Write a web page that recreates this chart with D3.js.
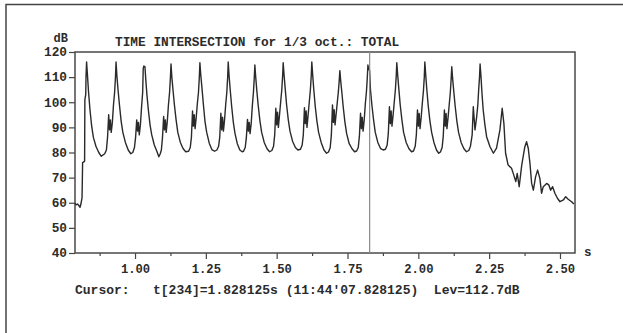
<!DOCTYPE html>
<html>
<head>
<meta charset="utf-8">
<script src="https://cdn.jsdelivr.net/npm/d3@7"></script>
<style>
  body { margin: 0; background: #fff; }
  svg { display: block; }
  text { font-family: "Liberation Mono", "DejaVu Sans Mono", monospace; font-weight: bold; fill: #2b2b2b; }
</style>
</head>
<body>
<div id="chart"></div>
<script>
// time axis (s) and level (dB)
const timeS = [
  0.788, 0.792, 0.797, 0.801, 0.806, 0.809, 0.813, 0.815, 0.822, 0.823, 0.826, 0.827,
  0.829, 0.832, 0.836, 0.841, 0.847, 0.853, 0.862, 0.872, 0.881,
  0.893, 0.899, 0.903, 0.907, 0.910, 0.913, 0.916, 0.920, 0.924, 0.928, 0.931,
  0.933, 0.936, 0.940, 0.945, 0.951, 0.957, 0.966, 0.976, 0.985,
  0.992, 0.998, 1.002, 1.006, 1.009, 1.012, 1.015, 1.019, 1.023, 1.027, 1.029,
  1.031, 1.035, 1.038, 1.042, 1.047, 1.053, 1.059, 1.068, 1.077, 1.084,
  1.089, 1.093, 1.097, 1.101, 1.104, 1.107, 1.110, 1.114, 1.118, 1.122, 1.125,
  1.127, 1.130, 1.134, 1.139, 1.145, 1.151, 1.160, 1.170, 1.179,
  1.189, 1.195, 1.199, 1.203, 1.206, 1.209, 1.212, 1.216, 1.220, 1.224, 1.227,
  1.229, 1.232, 1.236, 1.241, 1.247, 1.253, 1.262, 1.272, 1.281,
  1.289, 1.295, 1.299, 1.303, 1.306, 1.309, 1.312, 1.316, 1.320, 1.324, 1.327,
  1.329, 1.332, 1.336, 1.341, 1.347, 1.353, 1.361, 1.370, 1.378,
  1.383, 1.389, 1.393, 1.397, 1.400, 1.403, 1.406, 1.410, 1.414, 1.418, 1.421,
  1.423, 1.426, 1.430, 1.435, 1.441, 1.447, 1.456, 1.466, 1.475,
  1.483, 1.489, 1.493, 1.497, 1.500, 1.503, 1.506, 1.510, 1.514, 1.518, 1.521,
  1.523, 1.526, 1.530, 1.535, 1.541, 1.547, 1.556, 1.566, 1.575,
  1.584, 1.590, 1.594, 1.598, 1.601, 1.604, 1.607, 1.611, 1.615, 1.619, 1.622,
  1.624, 1.627, 1.631, 1.636, 1.642, 1.648, 1.657, 1.667, 1.676,
  1.683, 1.689, 1.693, 1.697, 1.700, 1.703, 1.706, 1.710, 1.714, 1.718, 1.721,
  1.723, 1.726, 1.730, 1.735, 1.741, 1.747, 1.756, 1.766, 1.775,
  1.782, 1.788, 1.792, 1.796, 1.799, 1.802, 1.805, 1.809, 1.813, 1.817, 1.820,
  1.822, 1.825, 1.828, 1.831, 1.836, 1.842, 1.848, 1.857, 1.867, 1.876,
  1.884, 1.890, 1.894, 1.898, 1.901, 1.904, 1.907, 1.911, 1.915, 1.919, 1.922,
  1.924, 1.927, 1.931, 1.936, 1.942, 1.948, 1.957, 1.967, 1.976,
  1.983, 1.989, 1.993, 1.997, 2.000, 2.003, 2.006, 2.010, 2.014, 2.018, 2.021,
  2.023, 2.026, 2.030, 2.035, 2.041, 2.047, 2.055, 2.064, 2.072,
  2.078, 2.084, 2.088, 2.092, 2.095, 2.098, 2.101, 2.105, 2.109, 2.113, 2.116,
  2.118, 2.121, 2.125, 2.130, 2.136, 2.142, 2.151, 2.161, 2.170,
  2.178, 2.184, 2.190, 2.194, 2.200, 2.206, 2.210, 2.213, 2.216,
  2.218, 2.221, 2.225, 2.229, 2.235, 2.241, 2.253, 2.265, 2.276, 2.288,
  2.296, 2.302, 2.308, 2.317, 2.329, 2.335, 2.344, 2.349, 2.356, 2.365,
  2.376, 2.382, 2.388, 2.394, 2.400, 2.406, 2.414, 2.421, 2.429, 2.435,
  2.441, 2.453, 2.461, 2.467, 2.474, 2.482, 2.491, 2.500, 2.512, 2.520,
  2.529, 2.541, 2.549
];
const levelDb = [
  59.8, 59.2, 59.5, 59.0, 58.2, 59.5, 62.0, 76.0, 76.5, 101.0, 103.0, 110.0,
  116.0, 111.0, 104.0, 97.0, 90.5, 86.0, 82.5, 80.0, 78.5,
  79.5, 81.0, 86.0, 95.0, 89.0, 93.0, 88.0, 92.0, 99.0, 104.0, 110.0,
  116.0, 110.5, 105.0, 99.0, 92.5, 88.0, 84.0, 81.0, 79.5,
  80.0, 82.0, 86.0, 93.0, 88.5, 92.0, 87.0, 91.0, 98.0, 104.0, 113.5,
  114.4, 114.2, 109.0, 103.0, 97.0, 91.0, 87.0, 83.0, 80.5, 78.3,
  79.5, 81.0, 86.0, 94.3, 89.0, 93.0, 88.0, 92.5, 99.0, 104.0, 110.0,
  115.2, 110.0, 105.0, 99.0, 93.0, 88.0, 84.0, 81.5, 80.3,
  80.5, 82.0, 86.0, 96.5, 90.5, 95.0, 89.5, 94.0, 99.5, 104.0, 110.0,
  115.7, 111.0, 106.0, 99.5, 92.3, 88.0, 83.7, 81.0, 80.5,
  81.0, 82.5, 86.0, 95.6, 89.0, 94.0, 88.5, 93.0, 99.0, 104.0, 110.0,
  116.0, 110.5, 105.0, 98.5, 92.0, 87.5, 83.5, 81.0, 80.3,
  80.5, 82.0, 86.0, 93.2, 88.5, 92.0, 87.5, 91.5, 98.5, 104.0, 110.0,
  114.8, 110.0, 104.5, 98.5, 92.5, 88.0, 84.0, 81.5, 80.3,
  80.8, 82.5, 87.0, 97.6, 91.0, 96.0, 90.0, 95.0, 100.0, 105.0, 110.5,
  115.7, 111.0, 105.5, 99.0, 93.0, 88.5, 84.5, 82.0, 81.0,
  81.3, 83.0, 87.0, 97.8, 91.5, 96.5, 90.0, 95.0, 100.0, 105.0, 110.5,
  116.0, 111.0, 105.0, 98.5, 92.5, 88.0, 84.0, 81.0, 79.7,
  80.2, 82.0, 87.0, 98.9, 92.0, 97.0, 91.0, 95.5, 100.0, 104.5, 109.0,
  112.6, 108.5, 104.0, 98.0, 92.0, 87.5, 83.5, 81.5, 80.3,
  80.6, 82.0, 86.5, 95.6, 89.5, 94.0, 88.5, 93.0, 99.5, 104.5, 110.0,
  114.8, 113.0, 112.7, 105.0, 99.0, 93.0, 88.0, 84.0, 81.5, 81.0,
  81.3, 83.0, 87.5, 98.2, 91.5, 96.5, 90.5, 95.0, 100.0, 105.0, 110.5,
  115.7, 111.0, 105.5, 99.0, 93.0, 88.0, 84.0, 81.5, 80.3,
  80.6, 82.5, 87.0, 96.9, 90.5, 95.5, 89.5, 94.0, 99.5, 104.5, 110.0,
  116.0, 111.0, 105.0, 98.5, 92.5, 88.0, 84.0, 81.0, 79.7,
  80.2, 82.0, 86.5, 96.9, 90.5, 95.5, 89.5, 94.0, 99.0, 104.0, 109.5,
  114.1, 109.5, 104.5, 98.5, 92.5, 88.0, 84.0, 81.5, 80.3,
  80.8, 82.5, 87.0, 98.2, 89.0, 94.3, 99.0, 105.0, 110.0,
  115.2, 110.5, 103.0, 96.9, 91.0, 86.3, 82.3, 79.7, 81.7, 89.0,
  97.6, 91.6, 79.7, 75.0, 73.7, 71.7, 68.4, 71.7, 66.4, 75.0,
  82.3, 84.3, 81.7, 75.7, 67.7, 65.0, 70.4, 73.0, 69.7, 63.8,
  66.4, 67.7, 67.0, 65.0, 66.4, 63.8, 61.8, 60.4, 61.1, 62.4,
  61.4, 60.4, 59.5
];

const yTicks = [40, 50, 60, 70, 80, 90, 100, 110, 120];
const xMajorTicks = [1.00, 1.25, 1.50, 1.75, 2.00, 2.25, 2.50];
const xMinorTicks = [0.875, 1.125, 1.375, 1.625, 1.875, 2.125, 2.375];

const titleText = "TIME INTERSECTION for 1/3 oct.: TOTAL";
const cursorTime = 1.828125;
const cursorText = "Cursor:   t[234]=1.828125s (11:44'07.828125)  Lev=112.7dB";

const width = 623, height = 333;
const plotL = 75, plotR = 575, plotT = 52, plotB = 253;

const x = d3.scaleLinear().domain([0.788125, 2.553]).range([plotL, plotR]);
const y = d3.scaleLinear().domain([40, 120]).range([plotB, plotT]);

const svg = d3.select("#chart").append("svg")
    .attr("width", width)
    .attr("height", height);

// outer frame (only top & left edges visible)
svg.append("path")
    .attr("d", "M6,333V4.5H623")
    .attr("fill", "none")
    .attr("stroke", "#444")
    .attr("stroke-width", 1.5);

// y axis
const yAxis = svg.append("g")
    .attr("transform", "translate(" + plotL + ",0)")
    .call(d3.axisLeft(y).tickValues(yTicks).tickSize(6).tickPadding(2).tickFormat(d3.format("d")));

// x axis major + minor
const xAxis = svg.append("g")
    .attr("transform", "translate(0," + plotB + ")")
    .call(d3.axisBottom(x).tickValues(xMajorTicks).tickSize(6).tickPadding(5).tickFormat(d3.format(".2f")));

svg.append("g")
    .attr("transform", "translate(0," + plotB + ")")
    .call(d3.axisBottom(x).tickValues(xMinorTicks).tickSize(3).tickFormat(""));

svg.selectAll(".domain").remove();
svg.selectAll(".tick line").attr("stroke", "#444").attr("stroke-width", 1.2);
svg.selectAll(".tick text").attr("fill", "#2b2b2b");
yAxis.selectAll(".tick text").attr("dy", "0.3em").style("font-size", "12.8px");
xAxis.selectAll(".tick text").attr("dy", "0.75em").style("font-size", "12.2px");
svg.selectAll("g").attr("font-family", null).attr("font-size", null);

// plot frame
svg.append("rect")
    .attr("x", plotL).attr("y", plotT)
    .attr("width", plotR - plotL).attr("height", plotB - plotT)
    .attr("fill", "none")
    .attr("stroke", "#4a4a4a")
    .attr("stroke-width", 1.5);

// trace
const line = d3.line()
    .x((d, i) => x(timeS[i]))
    .y(d => y(d));

svg.append("path")
    .datum(levelDb)
    .attr("d", line)
    .attr("fill", "none")
    .attr("stroke", "#2a2a2a")
    .attr("stroke-width", 1.4)
    .attr("stroke-linejoin", "round");

// cursor
svg.append("line")
    .attr("x1", x(cursorTime)).attr("x2", x(cursorTime))
    .attr("y1", plotT).attr("y2", plotB)
    .attr("stroke", "#8a8a8a")
    .attr("stroke-width", 1.2);

// labels
svg.append("text")
    .attr("x", 115).attr("y", 45.5)
    .style("font-size", "12.8px")
    .style("white-space", "pre")
    .text(titleText);

svg.append("text")
    .attr("x", 68).attr("y", 42)
    .attr("text-anchor", "end")
    .style("font-size", "12px")
    .text("dB");

svg.append("text")
    .attr("x", 584).attr("y", 256)
    .style("font-size", "12.5px")
    .text("s");

svg.append("text")
    .attr("x", 75).attr("y", 294)
    .style("font-size", "13px")
    .style("white-space", "pre")
    .text(cursorText);
</script>
</body>
</html>
